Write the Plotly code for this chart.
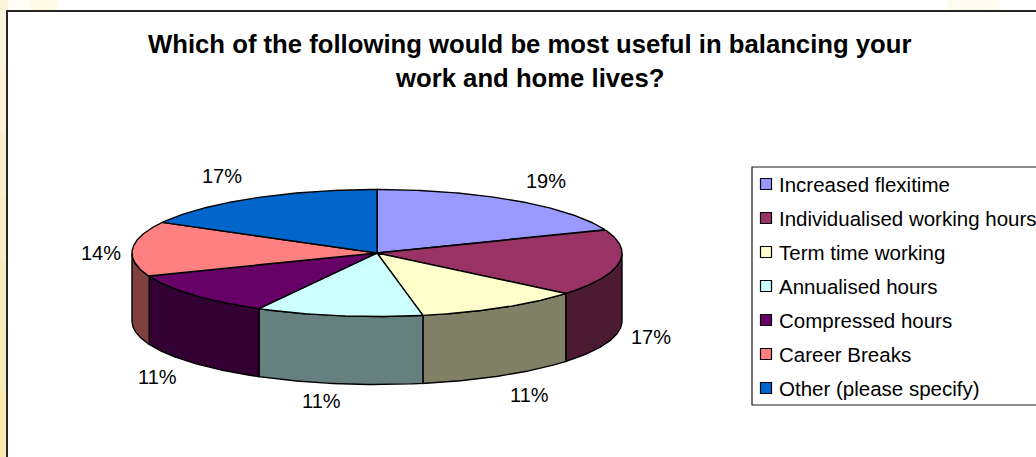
import numpy as np
import plotly.graph_objects as go

# Survey responses, percent of respondents
categories = [
    "Increased flexitime",
    "Individualised working hours",
    "Term time working",
    "Annualised hours",
    "Compressed hours",
    "Career Breaks",
    "Other (please specify)",
]
values = [19, 17, 11, 11, 11, 14, 17]
top_colors = ["#9999FF", "#993366", "#FFFFCC", "#CCFFFF", "#660066", "#FF8080", "#0066CC"]
wall_colors = ["#4D4D80", "#4D1A33", "#808066", "#668080", "#330033", "#804040", "#003366"]

title_lines = ["Which of the following would be most useful in balancing your",
               "work and home lives?"]

# Canvas size; the axes run in canvas pixels so the layout constants read directly
W, H = 1036, 457
CX, CY = 377, 253      # centre of the pie's top face
RX, RY = 245, 63.5     # ellipse radii of the tilted disc
DEPTH = 68             # height of the disc's side wall

# Percentage label centres
label_xy = [(546, 181), (651, 337), (529, 395), (321, 401), (157, 377), (101, 253), (222, 176)]

# Legend layout
LEG_LEFT, LEG_TOP, LEG_BOTTOM = 752, 167, 405
LEG_FIRST_Y, LEG_STEP = 184, 34
LEG_SWATCH_X, LEG_TEXT_X = 766, 777

FONT = "Liberation Sans"
TEXT = "#000000"


def rim(start_deg, end_deg, drop=0.0):
    """Points on the disc's rim, clockwise from 12 o'clock, optionally lowered."""
    n = max(2, int(abs(end_deg - start_deg) * 2))
    t = np.radians(np.linspace(start_deg, end_deg, n))
    return CX + RX * np.sin(t), CY - RY * np.cos(t) + drop


fig = go.Figure()

edges = np.cumsum([0] + values) / sum(values) * 360.0

# Side wall: only the front half of the disc (90 to 270 degrees) is visible
for i in range(len(values)):
    a, b = max(edges[i], 90.0), min(edges[i + 1], 270.0)
    if b <= a:
        continue
    x_up, y_up = rim(a, b)
    x_lo, y_lo = rim(a, b, DEPTH)
    fig.add_trace(go.Scatter(
        x=np.r_[x_up, x_lo[::-1], x_up[0]],
        y=np.r_[y_up, y_lo[::-1], y_up[0]],
        mode="lines", fill="toself", fillcolor=wall_colors[i],
        line=dict(color="#000000", width=1.4),
        hoverinfo="skip", showlegend=False,
    ))

# Top face wedges
for i, name in enumerate(categories):
    x_arc, y_arc = rim(edges[i], edges[i + 1])
    fig.add_trace(go.Scatter(
        x=np.r_[CX, x_arc, CX],
        y=np.r_[CY, y_arc, CY],
        mode="lines", fill="toself", fillcolor=top_colors[i],
        line=dict(color="#000000", width=1.4),
        name=name, hoverinfo="name", showlegend=False,
    ))

# Legend swatches and their labels
fig.add_trace(go.Scatter(
    x=[LEG_SWATCH_X] * len(categories),
    y=[LEG_FIRST_Y + LEG_STEP * i for i in range(len(categories))],
    mode="markers",
    marker=dict(symbol="square", size=11, color=top_colors,
                line=dict(color="#000000", width=1.2)),
    hoverinfo="skip", showlegend=False,
))

annotations = []
for (lx, ly), v in zip(label_xy, values):
    annotations.append(dict(x=lx, y=ly, text=f"{v}%", showarrow=False,
                            font=dict(family=FONT, size=20, color=TEXT)))
for i, name in enumerate(categories):
    annotations.append(dict(x=LEG_TEXT_X, y=LEG_FIRST_Y + LEG_STEP * i, text=name,
                            xanchor="left", showarrow=False,
                            font=dict(family=FONT, size=20.5, color=TEXT)))
for line, y in zip(title_lines, (44, 78)):
    annotations.append(dict(x=529, y=y, text=f"<b>{line}</b>", showarrow=False,
                            font=dict(family=FONT, size=25.7, color=TEXT)))

for a in annotations:
    a.update(xref="x", yref="y")


def rect(x0, y0, x1, y1, fill, line=None, width=0):
    return dict(type="rect", xref="x", yref="y", x0=x0, y0=y0, x1=x1, y1=y1,
                fillcolor=fill, line=dict(color=line or fill, width=width), layer="below")


# Pale cream slide background showing round the chart frame, darkening down the left edge
strip_colors = ["#FDF5E2", "#FCF3D8", "#FBF0CE", "#F9EEC8", "#F6ECBF", "#F5EDB8", "#F7EBB0"]
strip_h = H / len(strip_colors)
shapes = [rect(0, i * strip_h, 7, (i + 1) * strip_h, c) for i, c in enumerate(strip_colors)]
shapes += [
    rect(0, 0, 8, 10, "#FDF2DA"),
    rect(8, 0, 30, 10, "#FFFDF5"),
    rect(30, 0, 58, 10, "#FFFBE6"),
    rect(948, 0, 1000, 10, "#FFFBEE"),
    # Chart frame, running off the right and bottom of the page
    rect(7, 11, W + 10, H + 10, "#FFFFFF", "#262626", 2),
    # Legend box, cut by the right edge of the page
    rect(LEG_LEFT, LEG_TOP, W + 10, LEG_BOTTOM, "#FFFFFF", "#1A1A1A", 1.2),
]

axis = dict(visible=False, showgrid=False, zeroline=False, fixedrange=True)
fig.update_layout(
    width=W, height=H,
    margin=dict(l=0, r=0, t=0, b=0),
    paper_bgcolor="#FFFFFF", plot_bgcolor="#FFFFFF",
    xaxis=dict(range=[0, W], **axis),
    yaxis=dict(range=[H, 0], **axis),
    shapes=shapes,
    annotations=annotations,
    showlegend=False,
)

fig.write_html("out.html", config=dict(displayModeBar=False))
